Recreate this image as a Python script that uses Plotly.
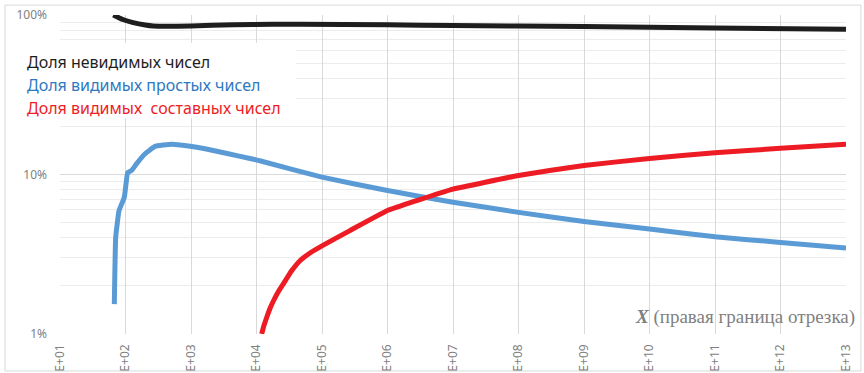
import plotly.graph_objects as go

# Right edge of the interval X and the share of numbers (in %) for each group
x_invisible = [65, 78, 91, 131, 200, 265, 1000, 4430, 18000, 46000, 1e6, 1e7, 1e9, 1e11, 1e13]
invisible = [100, 96.5, 93.7, 89.6, 86.6, 85.4, 85.4, 86.9, 87.6, 87.6, 86.8, 86.0, 84.6, 82.9, 81.5]

x_prime = [67.5, 70.8, 79.6, 95.9, 108, 124, 148, 199, 282, 507, 910, 1640, 3710,
           7960, 12000, 1e5, 1e6, 1e7, 1e8, 1e9, 1e10, 1e11, 1e12, 1e13]
prime = [1.54, 4.03, 5.94, 7.19, 10.3, 10.6, 11.7, 13.5, 15.0, 15.5, 15.1, 14.5, 13.5,
         12.6, 12.1, 9.62, 7.93, 6.70, 5.79, 5.08, 4.55, 4.07, 3.75, 3.46]

x_composite = [12000, 13000, 14300, 16000, 18100, 21500, 25600, 34400, 46100, 65600, 1e5,
               267000, 1e6, 2.8e6, 1e7, 1e8, 1e9, 1e10, 1e11, 1e12, 1e13]
composite = [1.0, 1.13, 1.27, 1.44, 1.61, 1.84, 2.06, 2.49, 2.88, 3.22, 3.57,
             4.45, 5.94, 6.86, 8.1, 9.86, 11.4, 12.6, 13.7, 14.6, 15.5]

series_names = ["Доля невидимых чисел", "Доля видимых простых чисел", "Доля видимых  составных чисел"]
line_colors = ["#1e1e1e", "#5b9bd5", "#ed1c24"]
text_colors = ["#1e1e1e", "#2e78c2", "#ee1c25"]

x_exponents = list(range(1, 14))
x_tickvals = [10 ** e for e in x_exponents]
x_ticktext = ["E+%02d" % e for e in x_exponents]
y_tickvals = [1, 10, 100]
y_ticktext = ["1%", "10%", "100%"]
y_minor = [m * d for d in (1, 10) for m in range(2, 10)]

fig = go.Figure()
for xs, ys, name, color in zip([x_invisible, x_prime, x_composite],
                               [invisible, prime, composite],
                               series_names, line_colors):
    fig.add_trace(go.Scatter(x=xs, y=ys, mode="lines", name=name,
                             line=dict(color=color, width=5, shape="spline", smoothing=0.3),
                             showlegend=False))

grid_major = "#d9d9d9"
fig.update_xaxes(type="log", range=[1, 13], tickvals=x_tickvals, ticktext=x_ticktext,
                 tickangle=-90, showgrid=True, gridcolor=grid_major, gridwidth=1,
                 zeroline=False, showline=False, ticks="", ticklabelstandoff=7,
                 automargin=False,
                 tickfont=dict(family="Noto Sans", size=12, color="#7f7f7f"))
fig.update_yaxes(type="log", range=[0, 2], tickvals=y_tickvals, ticktext=y_ticktext,
                 showgrid=True, gridcolor=grid_major, gridwidth=1,
                 minor=dict(tickvals=y_minor, showgrid=True, gridcolor="#ececec", gridwidth=1),
                 zeroline=False, showline=False, ticks="", ticklabelstandoff=12,
                 automargin=False,
                 tickfont=dict(family="Noto Sans", size=12, color="#7f7f7f"))

shapes = [
    # chart frame
    dict(type="rect", xref="paper", yref="paper", x0=-0.070, x1=1.019, y0=-0.116, y1=1.031,
         line=dict(color="#d9d9d9", width=1), fillcolor="rgba(0,0,0,0)", layer="below"),
    # legend box
    dict(type="rect", xref="paper", yref="paper", x0=-0.053, x1=0.300, y0=0.677, y1=0.912,
         line=dict(width=0), fillcolor="white", layer="above"),
]

annotations = []
for name, color, yp in zip(series_names, text_colors, [0.852, 0.782, 0.709]):
    annotations.append(dict(text=name.replace("  ", "&nbsp; "), xref="paper", yref="paper",
                            x=-0.0445, y=yp, xanchor="left", yanchor="middle", showarrow=False,
                            font=dict(family="Noto Sans", size=16, color=color)))
annotations.append(dict(text="<b><i>X</i></b> (правая граница отрезка)", xref="paper", yref="paper",
                        x=1.014, y=0.053, xanchor="right", yanchor="middle", showarrow=False,
                        font=dict(family="Liberation Serif", size=19, color="#7f7f7f")))

fig.update_layout(width=864, height=373, margin=dict(l=60, r=18, t=15, b=39),
                  paper_bgcolor="white", plot_bgcolor="white",
                  shapes=shapes, annotations=annotations)

fig.write_html("out.html")
